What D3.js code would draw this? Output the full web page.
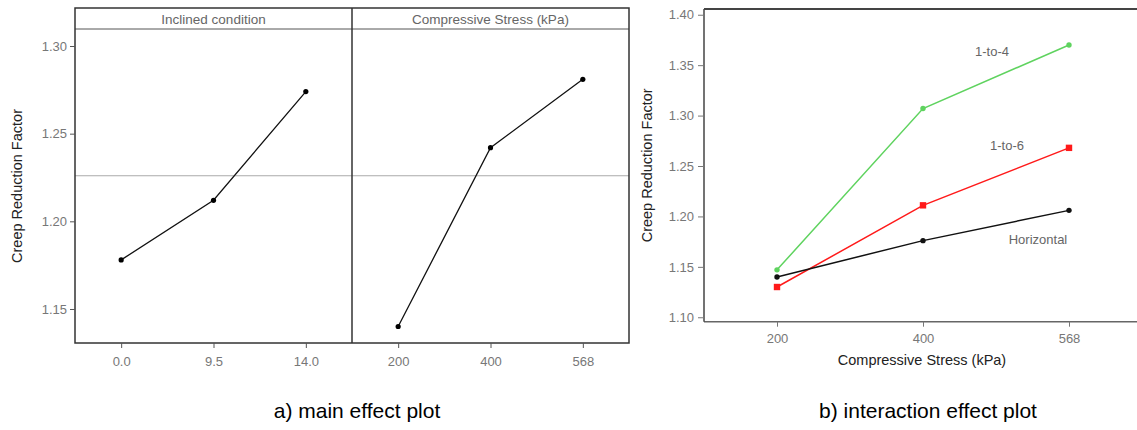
<!DOCTYPE html>
<html>
<head>
<meta charset="utf-8">
<script src="https://cdn.jsdelivr.net/npm/d3@7"></script>
<style>
  body { margin: 0; background: #fff; }
  svg text { font-family: "Liberation Sans", Arial, sans-serif; }
</style>
</head>
<body>
<svg id="chart" width="1137" height="430"></svg>
<script>
// main effect plot data
var inclinedLevels = ["0.0", "9.5", "14.0"];
var inclinedMeans = [1.178, 1.212, 1.274];
var stressLevels = ["200", "400", "568"];
var stressMeans = [1.140, 1.242, 1.281];
var grandMean = 1.226;
var mainTicks = [1.15, 1.20, 1.25, 1.30];

// interaction plot data
var seriesNames = ["1-to-4", "1-to-6", "Horizontal"];
var oneToFour = [1.147, 1.307, 1.370];
var oneToSix = [1.130, 1.211, 1.268];
var horizontal = [1.140, 1.176, 1.206];
var interTicks = [1.10, 1.15, 1.20, 1.25, 1.30, 1.35, 1.40];

var svg = d3.select("#chart");
var tickColor = "#777";

// ---------- left: main effect plot ----------
var L = {left: 75, mid: 352, right: 629, top: 8, strip: 29, bottom: 343};
var y1 = d3.scaleLinear().domain([1.1306, 1.3097]).range([L.bottom, L.strip]);
var xInc = d3.scalePoint().domain(inclinedLevels).range([L.left, L.mid]).padding(0.5);
var xStr = d3.scalePoint().domain(stressLevels).range([L.mid, L.right]).padding(0.5);

var gl = svg.append("g");

// grand mean line
gl.append("line")
  .attr("x1", L.left).attr("x2", L.right)
  .attr("y1", y1(grandMean)).attr("y2", y1(grandMean))
  .attr("stroke", "#aaa").attr("stroke-width", 1.2);

// strip line
gl.append("line")
  .attr("x1", L.left).attr("x2", L.right)
  .attr("y1", L.strip).attr("y2", L.strip)
  .attr("stroke", "#555").attr("stroke-width", 1);

// frame + divider
gl.append("rect")
  .attr("x", L.left).attr("y", L.top)
  .attr("width", L.right - L.left).attr("height", L.bottom - L.top)
  .attr("fill", "none").attr("stroke", "#333").attr("stroke-width", 1.5);
gl.append("line")
  .attr("x1", L.mid).attr("x2", L.mid)
  .attr("y1", L.top).attr("y2", L.bottom)
  .attr("stroke", "#333").attr("stroke-width", 1.5);

gl.append("text").attr("x", (L.left + L.mid) / 2).attr("y", 24)
  .attr("text-anchor", "middle").attr("font-size", 13.5).attr("fill", "#666")
  .text("Inclined condition");
gl.append("text").attr("x", (L.mid + L.right) / 2).attr("y", 24)
  .attr("text-anchor", "middle").attr("font-size", 13.5).attr("fill", "#666")
  .text("Compressive Stress (kPa)");

// axes
var yAxis1 = gl.append("g").attr("transform", "translate(" + L.left + ",0)")
  .call(d3.axisLeft(y1).tickValues(mainTicks).tickFormat(d3.format(".2f")).tickSize(5).tickPadding(3));
var xAxisInc = gl.append("g").attr("transform", "translate(0," + L.bottom + ")")
  .call(d3.axisBottom(xInc).tickSize(5).tickPadding(9));
var xAxisStr = gl.append("g").attr("transform", "translate(0," + L.bottom + ")")
  .call(d3.axisBottom(xStr).tickSize(5).tickPadding(9));
[yAxis1, xAxisInc, xAxisStr].forEach(function(a) {
  a.select(".domain").remove();
  a.selectAll("line").attr("stroke", "#555");
  a.selectAll("text").attr("font-size", 13).attr("fill", tickColor)
    .attr("font-family", "Liberation Sans, Arial, sans-serif");
});

gl.append("text")
  .attr("transform", "translate(22," + ((L.strip + L.bottom) / 2) + ") rotate(-90)")
  .attr("text-anchor", "middle").attr("font-size", 14.5).attr("fill", "#222")
  .text("Creep Reduction Factor");

var line1 = d3.line().x(function(d) { return d.x; }).y(function(d) { return y1(d.y); });
var incPts = inclinedLevels.map(function(c, i) { return {x: xInc(c), y: inclinedMeans[i]}; });
var strPts = stressLevels.map(function(c, i) { return {x: xStr(c), y: stressMeans[i]}; });
[incPts, strPts].forEach(function(pts) {
  gl.append("path").attr("d", line1(pts))
    .attr("fill", "none").attr("stroke", "#111").attr("stroke-width", 1.3);
  gl.selectAll(null).data(pts).enter().append("circle")
    .attr("cx", function(d) { return d.x; })
    .attr("cy", function(d) { return y1(d.y); })
    .attr("r", 2.6).attr("fill", "#000");
});

gl.append("text").attr("x", 357).attr("y", 418)
  .attr("text-anchor", "middle").attr("font-size", 21).attr("fill", "#000")
  .text("a) main effect plot");

// ---------- right: interaction plot ----------
var R = {left: 704, right: 1142, top: 9, bottom: 321.7};
var y2 = d3.scaleLinear().domain([1.0956, 1.4057]).range([R.bottom, R.top]);
var x2 = d3.scalePoint().domain(stressLevels).range([R.left, R.right]).padding(0.5);

var gr = svg.append("g");

gr.append("line").attr("x1", R.left).attr("x2", 1137)
  .attr("y1", R.top).attr("y2", R.top)
  .attr("stroke", "#444").attr("stroke-width", 2);
gr.append("line").attr("x1", R.left).attr("x2", 1137)
  .attr("y1", R.bottom).attr("y2", R.bottom)
  .attr("stroke", "#666").attr("stroke-width", 1.5);
gr.append("line").attr("x1", R.left).attr("x2", R.left)
  .attr("y1", R.top).attr("y2", R.bottom)
  .attr("stroke", "#444").attr("stroke-width", 1.5);

var yAxis2 = gr.append("g").attr("transform", "translate(" + R.left + ",0)")
  .call(d3.axisLeft(y2).tickValues(interTicks).tickFormat(d3.format(".2f")).tickSize(6).tickPadding(4));
var xAxis2 = gr.append("g").attr("transform", "translate(0," + R.bottom + ")")
  .call(d3.axisBottom(x2).tickSize(5).tickPadding(7));
[yAxis2, xAxis2].forEach(function(a) {
  a.select(".domain").remove();
  a.selectAll("line").attr("stroke", "#777");
  a.selectAll("text").attr("font-size", 13).attr("fill", tickColor)
    .attr("font-family", "Liberation Sans, Arial, sans-serif");
});

gr.append("text")
  .attr("transform", "translate(652," + ((R.top + R.bottom) / 2) + ") rotate(-90)")
  .attr("text-anchor", "middle").attr("font-size", 14.5).attr("fill", "#222")
  .text("Creep Reduction Factor");
gr.append("text").attr("x", 922).attr("y", 365)
  .attr("text-anchor", "middle").attr("font-size", 14.5).attr("fill", "#222")
  .text("Compressive Stress (kPa)");

var series = [
  {name: seriesNames[0], values: oneToFour, color: "#5fd35f", shape: "circle", lx: 992, ly: 56},
  {name: seriesNames[1], values: oneToSix, color: "#ff1a1a", shape: "square", lx: 1007, ly: 150},
  {name: seriesNames[2], values: horizontal, color: "#111", shape: "circle", lx: 1038, ly: 244}
];
var line2 = d3.line()
  .x(function(d, i) { return x2(stressLevels[i]); })
  .y(function(d) { return y2(d); });

series.forEach(function(s) {
  gr.append("path").attr("d", line2(s.values))
    .attr("fill", "none").attr("stroke", s.color).attr("stroke-width", 1.5);
  if (s.shape == "square") {
    gr.selectAll(null).data(s.values).enter().append("rect")
      .attr("x", function(d, i) { return x2(stressLevels[i]) - 3.2; })
      .attr("y", function(d) { return y2(d) - 3.2; })
      .attr("width", 6.4).attr("height", 6.4).attr("fill", s.color);
  } else {
    gr.selectAll(null).data(s.values).enter().append("circle")
      .attr("cx", function(d, i) { return x2(stressLevels[i]); })
      .attr("cy", function(d) { return y2(d); })
      .attr("r", 2.7).attr("fill", s.color);
  }
  gr.append("text").attr("x", s.lx).attr("y", s.ly)
    .attr("text-anchor", "middle").attr("font-size", 13).attr("fill", "#666")
    .text(s.name);
});

gr.append("text").attr("x", 928).attr("y", 418)
  .attr("text-anchor", "middle").attr("font-size", 21).attr("fill", "#000")
  .text("b) interaction effect plot");
</script>
</body>
</html>
